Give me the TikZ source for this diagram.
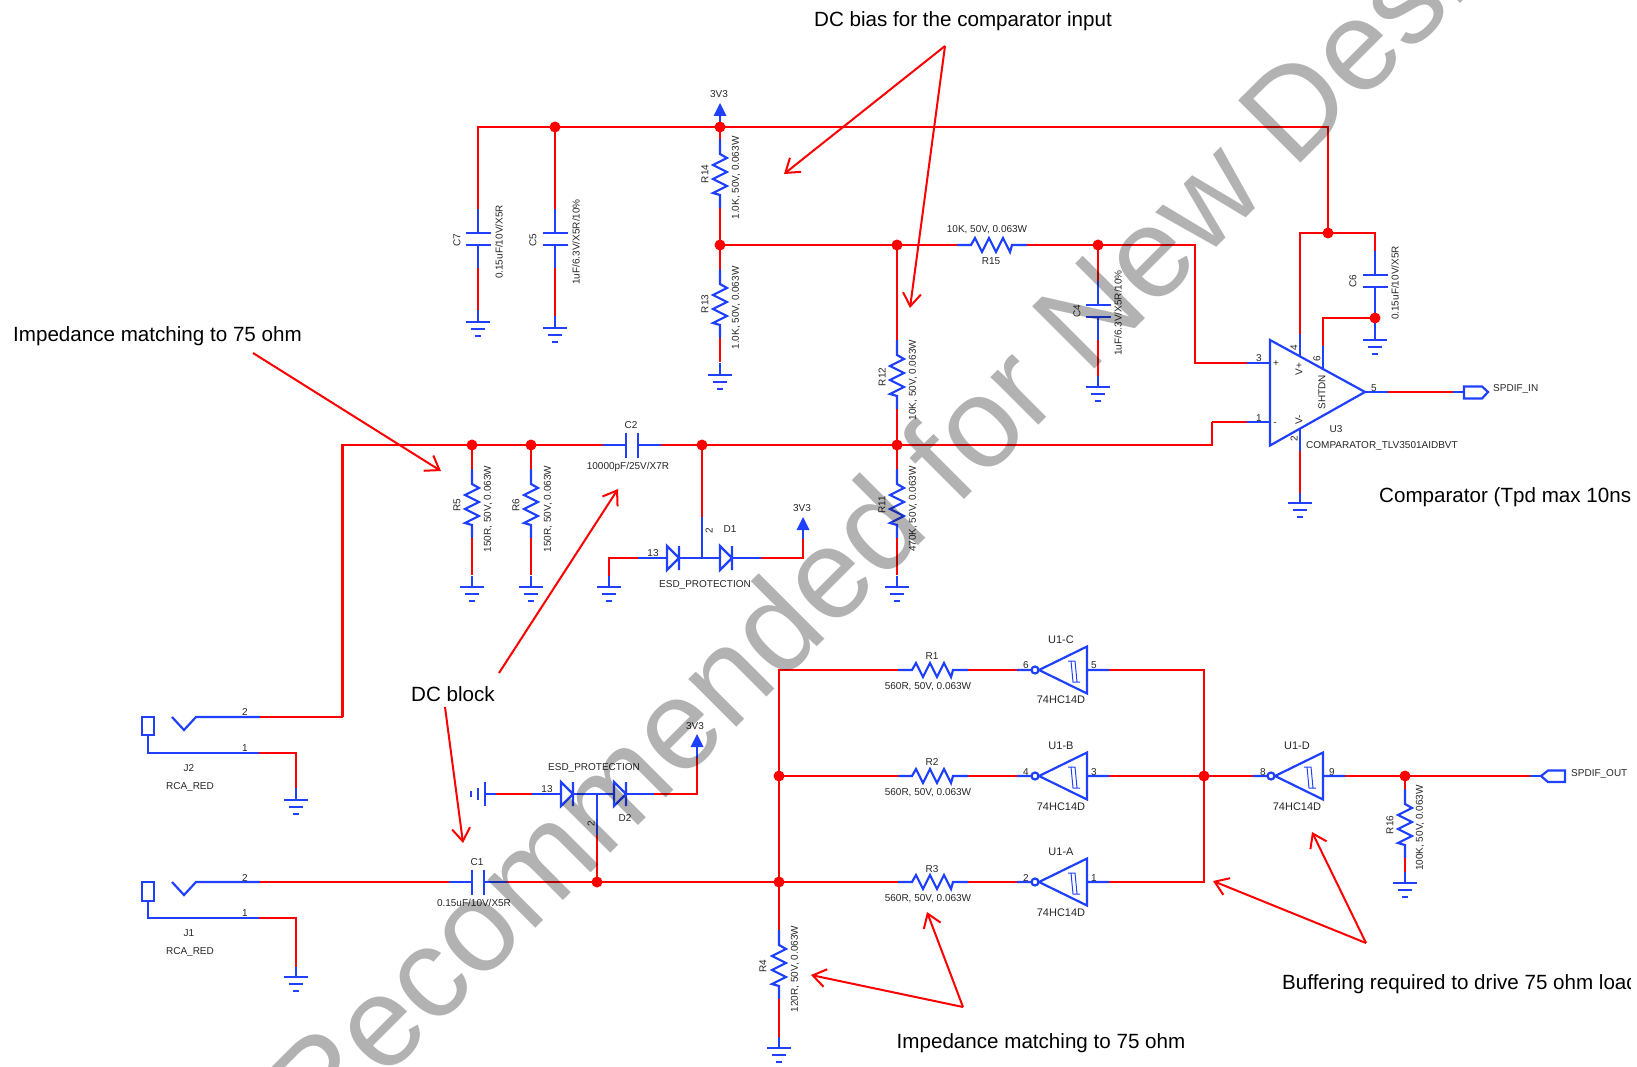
\documentclass[tikz,border=0pt]{standalone}
\usepackage{fontspec}
\setmainfont{Liberation Sans}
\usetikzlibrary{arrows.meta}
\definecolor{pinblue}{RGB}{32,64,255}
\tikzset{
	wire/.style={red, line width=2.4pt, line join=miter},
	pin/.style={pinblue, line width=2.2pt, line join=miter},
	smalltxt/.style={font=\fontsize{10}{12}\selectfont, text=black!85, inner sep=0pt, yshift=-1pt},
	gatetxt/.style={font=\fontsize{11}{13}\selectfont, text=black!85, inner sep=0pt, yshift=-1pt},
	bigtxt/.style={font=\fontsize{20.6}{24}\selectfont, text=black, inner sep=0pt, yshift=-2pt},
	callout/.style={red, line width=2pt, -{Straight Barb[length=13pt, width=18pt, line width=2pt]}},
}
\def\gndsym#1(#2,#3){\coordinate (#1) at (#2,#3);
	\draw[pin] (#2-12,#3) -- (#2+12,#3) (#2-7,#3+7) -- (#2+7,#3+7) (#2-3,#3+14) -- (#2+3,#3+14);}
\def\resv#1(#2,#3){\coordinate (#1-a) at (#2,#3); \coordinate (#1-b) at (#2,#3+69);
	\draw[pin] (#1-a) -- ++(0,15) -- ++(7,4) -- ++(-14,7) -- ++(14,7) -- ++(-14,7) -- ++(14,7) -- ++(-14,7) -- ++(7,2) -- (#1-b);}
\def\resh#1(#2,#3){\coordinate (#1-a) at (#2,#3); \coordinate (#1-b) at (#2+70,#3);
	\draw[pin] (#1-a) -- ++(14,0) -- ++(4,-7) -- ++(7,14) -- ++(7,-14) -- ++(7,14) -- ++(7,-14) -- ++(7,14) -- ++(2,-7) -- (#1-b);}
\def\capv#1(#2,#3){\coordinate (#1-a) at (#2,#3); \coordinate (#1-b) at (#2,#3+59);
	\draw[pin] (#1-a) -- ++(0,24) ++(-12.5,0) -- ++(25,0) ++(-25,12) -- ++(25,0) ++(-12.5,0) -- (#1-b);}
\def\caph#1(#2,#3){\coordinate (#1-a) at (#2,#3); \coordinate (#1-b) at (#2+58,#3);
	\draw[pin] (#1-a) -- ++(23,0) ++(0,-12.5) -- ++(0,25) ++(12,-25) -- ++(0,25) ++(0,-12.5) -- (#1-b);}
\def\diodeh#1(#2,#3){\coordinate (#1-a) at (#2,#3); \coordinate (#1-b) at (#2+12,#3);
	\draw[pin] (#1-a) ++(0,-12) -- ++(12,12) -- ++(-12,12) -- cycle (#2+12,#3-12) -- (#2+12,#3+12);}
\def\pwrsym#1(#2,#3){\coordinate (#1) at (#2,#3+13);
	\fill[pinblue] (#2,#3) -- (#2+6.5,#3+13) -- (#2-6.5,#3+13) -- cycle;}
\def\invgate#1(#2,#3){\coordinate (#1-a) at (#2,#3); \coordinate (#1-b) at (#2+92,#3);
	\draw[pin] (#1-a) -- (#2+14.5,#3) (#2+18,#3) circle (3.5);
	\draw[pin] (#2+22,#3) -- (#2+70,#3-23.5) -- (#2+70,#3+23.5) -- cycle (#2+70,#3) -- (#1-b);
	\draw[pinblue, line width=1pt] (#2+51,#3-9) -- (#2+58,#3-9) -- (#2+60,#3+12) (#2+54,#3-9) -- (#2+56,#3+12) -- (#2+63,#3+12);}

\begin{document}
\begin{tikzpicture}[x=1pt, y=-1pt]
		\useasboundingbox (0,0) rectangle (1637,1067);
		\clip (0,0) rectangle (1630,1067);
		%%%%% JUNCTIONS %%%%%
		\coordinate (railtl) at (478,127);
		\coordinate (nc5) at (555,127);
		\coordinate (n3v3) at (720,127);
		\coordinate (railtr) at (1328,127);
		\coordinate (nvp) at (1328,233);
		\coordinate (nbias) at (720,245);
		\coordinate (nr12) at (897,245);
		\coordinate (nc4) at (1098,245);
		\coordinate (nc6) at (1375,318);
		\coordinate (nr5) at (472,445);
		\coordinate (nr6) at (531,445);
		\coordinate (nd1) at (702,445);
		\coordinate (nr11) at (897,445);
		\coordinate (nd2) at (597,882);
		\coordinate (nin) at (779,882);
		\coordinate (nmid) at (779,776);
		\coordinate (nout) at (1204,776);
		\coordinate (nr16) at (1405,776);
		
		%%%%% TOP RAIL, BIAS %%%%%
		\capv{c7}(478,209)
		\capv{c5}(555,209)
		\resv{r14}(720,139)
		\resv{r13}(720,269)
		\resh{r15}(957,245)
		\capv{c4}(1098,281)
		\resv{r12}(897,340)
		\capv{c6}(1375,251)
		\gndsym{g7}(478,322)
		\gndsym{g5}(555,328)
		\gndsym{g13}(720,375)
		\gndsym{g4}(1098,387)
		\gndsym{g6}(1375,340)
		\pwrsym{p1}(720,103)
		\draw[wire] (c7-a) -- (railtl) -- (railtr) -- (nvp);
		\draw[wire] (nc5) -- (c5-a);
		\draw[wire] (n3v3) -- (r14-a);
		\draw[pin] (p1) -- (n3v3);
		\draw[wire] (c7-b) -- ++(0,42);
		\draw[pin] (478,310) -- (g7);
		\draw[wire] (c5-b) -- ++(0,48);
		\draw[pin] (555,316) -- (g5);
		\draw[wire] (r14-b) -- (nbias) -- (r13-a);
		\draw[wire] (r13-b) -- ++(0,24);
		\draw[pin] (720,363) -- (g13);
		\draw[wire] (nbias) -- (r15-a);
		\draw[wire] (r15-b) -- (1195,245) -- (1195,363) -- (1247,363);
		\draw[wire] (nc4) -- (c4-a);
		\draw[wire] (c4-b) -- ++(0,36);
		\draw[pin] (1098,376) -- (g4);
		\draw[wire] (nr12) -- (r12-a);
		\draw[wire] (r12-b) -- (nr11);
		\draw[wire] (1300,334) -- (1300,233) -- (1375,233) -- (c6-a);
		\draw[pin] (c6-b) -- (nc6);
		\draw[pin] (nc6) -- (g6);
		\draw[wire] (nc6) -- (1323,318) -- (1323,346);
		
		%%%%% COMPARATOR %%%%%
		\draw[pin] (1270,340) -- (1365,392) -- (1270,445.5) -- cycle;
		\draw[pin] (1247,363) -- (1270,363);
		\draw[pin] (1247,422) -- (1270,422);
		\draw[pin] (1300,334) -- (1300,356);
		\draw[pin] (1323,346) -- (1323,369);
		\draw[pin] (1300,429) -- (1300,451);
		\gndsym{g3}(1300,503)
		\draw[wire] (1300,451) -- (1300,493);
		\draw[pin] (1300,493) -- (g3);
		\draw[pin] (1365,392) -- (1388,392);
		\draw[wire] (1388,392) -- (1453,392);
		\draw[pin] (1453,392) -- (1464,392);
		\draw[pin] (1464,386.5) -- (1482,386.5) -- (1488,392) -- (1482,398.5) -- (1464,398.5) -- cycle;
		
		%%%%% INPUT FROM J2 %%%%%
		\draw[wire] (1212,422) -- (1247,422);
		\resv{r5}(472,469)
		\resv{r6}(531,469)
		\resv{r11}(897,469)
		\caph{c2}(603,445)
		\gndsym{g8}(472,587)
		\gndsym{g9}(531,587)
		\gndsym{g10}(897,587)
		\gndsym{g11}(609,587)
		\draw[wire] (342.5,717) -- (342.5,445) -- (c2-a);
		\draw[wire] (c2-b) -- (1212,445) -- (1212,422);
		\draw[wire] (nr5) -- (r5-a);
		\draw[wire] (nr6) -- (r6-a);
		\draw[wire] (nr11) -- (r11-a);
		\draw[wire] (r5-b) -- ++(0,37);
		\draw[wire] (r6-b) -- ++(0,37);
		\draw[wire] (r11-b) -- ++(0,37);
		\draw[pin] (472,576) -- (g8);
		\draw[pin] (531,576) -- (g9);
		\draw[pin] (897,576) -- (g10);
		\diodeh{d1a}(667,558)
		\diodeh{d1b}(720,558)
		\pwrsym{p2}(803,517)
		\draw[wire] (nd1) -- (702,517);
		\draw[pin] (702,517) -- (702,558);
		\draw[pin] (638,558) -- (d1a-a);
		\draw[pin] (d1a-b) -- (d1b-a);
		\draw[pin] (d1b-b) -- (761,558);
		\draw[wire] (761,558) -- (803,558) -- (803,539);
		\draw[pin] (803,539) -- (p2);
		\draw[wire] (638,558) -- (609,558) -- (609,576);
		\draw[pin] (609,576) -- (g11);
		
		%%%%% J1, J2 %%%%%
		\draw[pin] (142,717) rectangle (154,735);
		\draw[pin] (172,717) -- (184,730) -- (196,717) -- (260,717);
		\draw[pin] (148,735) -- (148,753) -- (259,753);
		\draw[wire] (260,717) -- (342.5,717);
		\gndsym{g1}(296,800)
		\draw[wire] (259,753) -- (296,753) -- (296,788);
		\draw[pin] (296,788) -- (g1);
		\draw[pin] (142,882) rectangle (154,901);
		\draw[pin] (172,882) -- (184,895) -- (196,882) -- (260,882);
		\draw[pin] (148,901) -- (148,918) -- (259,918);
		\gndsym{g2}(296,977)
		\draw[wire] (259,918) -- (296,918) -- (296,967);
		\draw[pin] (296,967) -- (g2);
		\caph{c1}(449,882)
		\draw[wire] (260,882) -- (c1-a);
		\draw[wire] (c1-b) -- (nin);
		
		%%%%% D2 %%%%%
		\diodeh{d2a}(561,794)
		\diodeh{d2b}(614,794)
		\pwrsym{p3}(697,734)
		\draw[pin] (471,791) -- (471,797) (478,788) -- (478,800) (485,782) -- (485,806) (485,794) -- (496,794);
		\draw[wire] (496,794) -- (532,794);
		\draw[pin] (532,794) -- (d2a-a);
		\draw[pin] (d2a-b) -- (d2b-a);
		\draw[pin] (d2b-b) -- (654,794);
		\draw[wire] (654,794) -- (697,794) -- (697,758);
		\draw[pin] (697,758) -- (p3);
		\draw[wire] (nd2) -- (597,835);
		\draw[pin] (597,835) -- (597,794);
		
		%%%%% INVERTERS %%%%%
		\resh{r1}(898,670)
		\resh{r2}(898,776)
		\resh{r3}(898,882)
		\invgate{u1c}(1017,670)
		\invgate{u1b}(1017,776)
		\invgate{u1a}(1017,882)
		\invgate{u1d}(1253,776)
		\resv{r4}(779,930)
		\gndsym{g12}(779,1048)
		\draw[wire] (r1-a) -- (779,670) -- (r4-a);
		\draw[wire] (nmid) -- (r2-a);
		\draw[wire] (nin) -- (r3-a);
		\draw[wire] (r1-b) -- (u1c-a);
		\draw[wire] (r2-b) -- (u1b-a);
		\draw[wire] (r3-b) -- (u1a-a);
		\draw[wire] (u1c-b) -- (1204,670) -- (1204,882) -- (u1a-b);
		\draw[wire] (u1b-b) -- (u1d-a);
		\draw[wire] (u1d-b) -- (1530,776);
		\draw[pin] (1530,776) -- (1541,776);
		\draw[pin] (1541,776) -- (1548,770.5) -- (1565,770.5) -- (1565,782) -- (1548,782) -- cycle;
		\resv{r16}(1405,789)
		\gndsym{g14}(1405,883)
		\draw[wire] (nr16) -- (r16-a);
		\draw[wire] (r16-b) -- ++(0,14);
		\draw[pin] (1405,872) -- (g14);
		\draw[wire] (r4-b) -- ++(0,38);
		\draw[pin] (779,1037) -- (g12);
		
		%%%%% DOTS %%%%%
		\foreach \n in {nc5,n3v3,nvp,nbias,nr12,nc4,nc6,nr5,nr6,nd1,nr11,nd2,nin,nmid,nout,nr16}
			\fill[red] (\n) circle (5.5);
		
		%%%%% LABELS %%%%%
		\node[smalltxt, rotate=90] (c7ref) at (457,239) {C7};
		\node[smalltxt, rotate=90] (c7val) at (499,241) {0.15uF/10V/X5R};
		\node[smalltxt, rotate=90] (c5ref) at (533,239) {C5};
		\node[smalltxt, rotate=90] (c5val) at (576,241) {1uF/6.3V/X5R/10\%};
		\node[smalltxt] (p1txt) at (719,93) {3V3};
		\node[smalltxt, rotate=90] (r14ref) at (705,173) {R14};
		\node[smalltxt, rotate=90] (r14val) at (736,177) {1.0K, 50V, 0.063W};
		\node[smalltxt, rotate=90] (r13ref) at (705,303) {R13};
		\node[smalltxt, rotate=90] (r13val) at (736,307) {1.0K, 50V, 0.063W};
		\node[smalltxt] (r15val) at (987,229) {10K, 50V, 0.063W};
		\node[smalltxt] (r15ref) at (991,260) {R15};
		\node[smalltxt, rotate=90] (c4ref) at (1077,310) {C4};
		\node[smalltxt, rotate=90] (c4val) at (1118,312) {1uF/6.3V/X5R/10\%};
		\node[smalltxt, rotate=90] (r12ref) at (882,376) {R12};
		\node[smalltxt, rotate=90] (r12val) at (913,379) {10K, 50V, 0.063W};
		\node[smalltxt, rotate=90] (c6ref) at (1353,280) {C6};
		\node[smalltxt, rotate=90] (c6val) at (1395,282) {0.15uF/10V/X5R};
		\node[smalltxt] (u3p3) at (1259,357) {3};
		\node[smalltxt] (u3p1) at (1259,417) {1};
		\node[smalltxt] (u3p5) at (1374,387) {5};
		\node[smalltxt, rotate=90] (u3p4) at (1294,347) {4};
		\node[smalltxt, rotate=90] (u3p6) at (1317,358) {6};
		\node[smalltxt, rotate=90] (u3p2) at (1294,438) {2};
		\node[smalltxt] (u3plus) at (1276,363) {+};
		\node[smalltxt] (u3minus) at (1275,423) {-};
		\node[smalltxt, rotate=90] (u3vp) at (1299,368) {V+};
		\node[smalltxt, rotate=90] (u3vm) at (1299,419) {V-};
		\node[smalltxt, rotate=90] (u3sd) at (1322,391) {SHTDN};
		\node[smalltxt] (u3ref) at (1336,428) {U3};
		\node[smalltxt, anchor=west] (u3val) at (1306,445) {COMPARATOR\_TLV3501AIDBVT};
		\node[smalltxt, anchor=west] (spdifin) at (1493,388) {SPDIF\_IN};
		\node[smalltxt] (c2ref) at (631,424) {C2};
		\node[smalltxt] (c2val) at (628,466) {10000pF/25V/X7R};
		\node[smalltxt, rotate=90] (r5ref) at (457,504) {R5};
		\node[smalltxt, rotate=90] (r5val) at (488,508) {150R, 50V, 0.063W};
		\node[smalltxt, rotate=90] (r6ref) at (516,504) {R6};
		\node[smalltxt, rotate=90] (r6val) at (548,508) {150R, 50V, 0.063W};
		\node[smalltxt, rotate=90] (r11ref) at (882,504) {R11};
		\node[smalltxt, rotate=90] (r11val) at (913,508) {470K, 50V, 0.063W};
		\node[smalltxt] (d1p13) at (653,552) {13};
		\node[smalltxt, rotate=90] (d1p2) at (709,530) {2};
		\node[smalltxt] (d1ref) at (730,528) {D1};
		\node[smalltxt] (d1val) at (705,584) {ESD\_PROTECTION};
		\node[smalltxt] (p2txt) at (802,507) {3V3};
		\node[smalltxt] (j2p2) at (245,711) {2};
		\node[smalltxt] (j2p1) at (245,747) {1};
		\node[smalltxt] (j2ref) at (189,767) {J2};
		\node[smalltxt] (j2val) at (190,786) {RCA\_RED};
		\node[smalltxt] (j1p2) at (245,877) {2};
		\node[smalltxt] (j1p1) at (245,912) {1};
		\node[smalltxt] (j1ref) at (189,932) {J1};
		\node[smalltxt] (j1val) at (190,951) {RCA\_RED};
		\node[smalltxt] (c1ref) at (477,861) {C1};
		\node[smalltxt] (c1val) at (474,902) {0.15uF/10V/X5R};
		\node[smalltxt] (d2val) at (594,767) {ESD\_PROTECTION};
		\node[smalltxt] (d2p13) at (547,788) {13};
		\node[smalltxt] (d2ref) at (625,817) {D2};
		\node[smalltxt, rotate=90] (d2p2) at (591,823) {2};
		\node[smalltxt] (p3txt) at (695,725) {3V3};
		\node[smalltxt] (r1ref) at (932,655) {R1};
		\node[smalltxt] (r1val) at (928,686) {560R, 50V, 0.063W};
		\node[smalltxt] (r2ref) at (932,761) {R2};
		\node[smalltxt] (r2val) at (928,792) {560R, 50V, 0.063W};
		\node[smalltxt] (r3ref) at (932,868) {R3};
		\node[smalltxt] (r3val) at (928,898) {560R, 50V, 0.063W};
		\node[gatetxt] (u1cref) at (1061,639) {U1-C};
		\node[gatetxt] (u1cval) at (1061,699) {74HC14D};
		\node[smalltxt] (u1cp6) at (1026,664) {6};
		\node[smalltxt] (u1cp5) at (1094,664) {5};
		\node[gatetxt] (u1bref) at (1061,745) {U1-B};
		\node[gatetxt] (u1bval) at (1061,806) {74HC14D};
		\node[smalltxt] (u1bp4) at (1026,771) {4};
		\node[smalltxt] (u1bp3) at (1094,771) {3};
		\node[gatetxt] (u1aref) at (1061,851) {U1-A};
		\node[gatetxt] (u1aval) at (1061,912) {74HC14D};
		\node[smalltxt] (u1ap2) at (1026,877) {2};
		\node[smalltxt] (u1ap1) at (1094,877) {1};
		\node[gatetxt] (u1dref) at (1297,745) {U1-D};
		\node[gatetxt] (u1dval) at (1297,806) {74HC14D};
		\node[smalltxt] (u1dp8) at (1263,771) {8};
		\node[smalltxt] (u1dp9) at (1332,771) {9};
		\node[smalltxt, rotate=90] (r16ref) at (1390,824) {R16};
		\node[smalltxt, rotate=90] (r16val) at (1420,827) {100K, 50V, 0.063W};
		\node[smalltxt, anchor=west] (spdifout) at (1571,773) {SPDIF\_OUT};
		\node[smalltxt, rotate=90] (r4ref) at (763,965) {R4};
		\node[smalltxt, rotate=90] (r4val) at (795,968) {120R, 50V, 0.063W};
		
		%%%%% NOTES %%%%%
		\node[bigtxt] (notebias) at (963,19) {DC bias for the comparator input};
		\node[bigtxt, anchor=west] (notezin) at (13,334) {Impedance matching to 75 ohm};
		\node[bigtxt] (noteblock) at (453,692) {DC block};
		\node[bigtxt, anchor=west] (notecomp) at (1379,495) {Comparator (Tpd max 10ns)};
		\node[bigtxt, anchor=west] (notebuf) at (1282,982) {Buffering required to drive 75 ohm load};
		\node[bigtxt] (notezout) at (1041,1041) {Impedance matching to 75 ohm};
		\coordinate (biasfrom) at (945,46);
		\coordinate (zinfrom) at (253,353);
		\coordinate (blockup) at (499,673);
		\coordinate (blockdn) at (445,707);
		\coordinate (zoutfrom) at (963,1007);
		\coordinate (buffrom) at (1366,943);
		\draw[callout] (biasfrom) -- (784,174);
		\draw[callout] (biasfrom) -- (910,308);
		\draw[callout] (zinfrom) -- (441,471);
		\draw[callout] (blockup) -- (618,489);
		\draw[callout] (blockdn) -- (463,843);
		\draw[callout] (zoutfrom) -- (811,975);
		\draw[callout] (zoutfrom) -- (927,912);
		\draw[callout] (buffrom) -- (1213,881);
		\draw[callout] (buffrom) -- (1312,832);
		
		%%%%% WATERMARK %%%%%
		\node[anchor=base west, rotate=45, inner sep=0pt, text=black, text opacity=0.3, font=\fontsize{128}{128}\selectfont] (stamp) at (152,1312) {Not Recommended for New Designs};
\end{tikzpicture}
\end{document}
